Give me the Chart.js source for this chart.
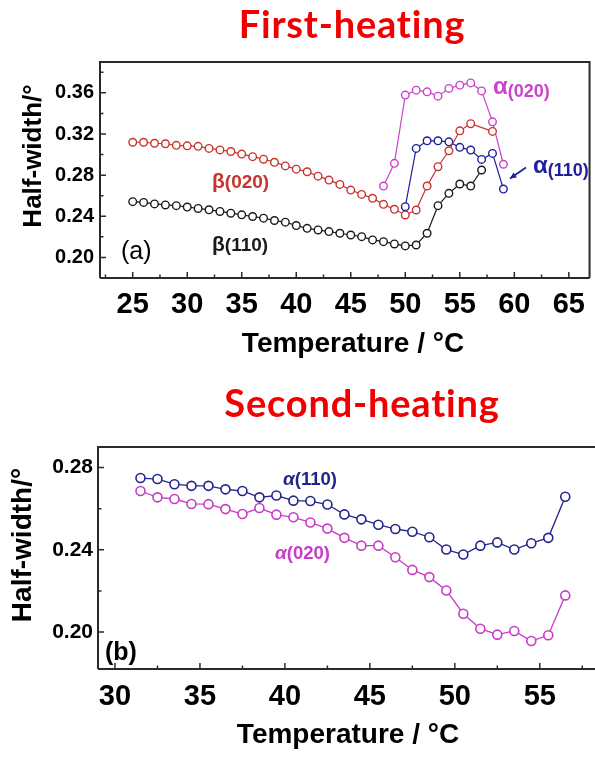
<!DOCTYPE html>
<html>
<head>
<meta charset="utf-8">
<script src="https://cdn.jsdelivr.net/npm/chart.js@4.4.0/dist/chart.umd.min.js"></script>
<style>
  body { margin: 0; background: #fff; width: 595px; height: 758px; position: relative; overflow: hidden; }
  canvas { position: absolute; left: 0; }
  #chartA { top: 0; }
  #chartB { top: 380px; }
</style>
</head>
<body>
<canvas id="chartA" width="595" height="370"></canvas>
<canvas id="chartB" width="595" height="378"></canvas>
<script>
// (a) first heating, temperature in °C
var tempA = [25, 26, 27, 28, 29, 30, 31, 32, 33, 34, 35, 36, 37, 38, 39, 40, 41, 42,
             43, 44, 45, 46, 47, 48, 49, 50, 51, 52, 53, 54, 55, 56, 57, 58, 59];
var beta020 = [0.312, 0.312, 0.311, 0.3105, 0.309, 0.3085, 0.308, 0.306, 0.3045, 0.303,
               0.3005, 0.298, 0.2955, 0.2925, 0.289, 0.2858, 0.2833, 0.279, 0.2752, 0.271,
               0.2655, 0.2613, 0.2575, 0.2516, 0.2468, 0.2413, 0.2461, 0.2694, 0.2882, 0.3037,
               0.3231, 0.33, null, 0.3225, null];
var beta110 = [0.2542, 0.2535, 0.252, 0.251, 0.2503, 0.249, 0.2476, 0.2463, 0.2447, 0.243,
               0.2414, 0.2398, 0.2382, 0.2359, 0.2343, 0.231, 0.2283, 0.2267, 0.2251, 0.2235,
               0.2218, 0.2202, 0.217, 0.2153, 0.2131, 0.2112, 0.2121, 0.2235, 0.2503, 0.2623,
               0.2714, 0.2694, 0.285, null, null];
var alpha110A = [null, null, null, null, null, null, null, null, null, null,
                 null, null, null, null, null, null, null, null, null, null,
                 null, null, null, null, null, 0.2493, 0.306, 0.3134, 0.3134, 0.3124,
                 0.307, 0.3044, 0.2953, 0.3011, 0.2665];
var alpha020A = [null, null, null, null, null, null, null, null, null, null,
                 null, null, null, null, null, null, null, null, null, null,
                 null, null, null, 0.2694, 0.2915, 0.3578, 0.3626, 0.361, 0.3568, 0.3643,
                 0.3675, 0.3697, 0.3619, 0.3318, 0.2906];

// (b) second heating
var tempB = [31.5, 32.5, 33.5, 34.5, 35.5, 36.5, 37.5, 38.5, 39.5, 40.5, 41.5, 42.5, 43.5,
             44.5, 45.5, 46.5, 47.5, 48.5, 49.5, 50.5, 51.5, 52.5, 53.5, 54.5, 55.5, 56.5];
var alpha110B = [0.2749, 0.2744, 0.2719, 0.2711, 0.2711, 0.2694, 0.2686, 0.2655, 0.2664, 0.2639,
                 0.2637, 0.262, 0.2572, 0.2548, 0.2522, 0.2501, 0.2488, 0.2461, 0.2401, 0.2377,
                 0.242, 0.2436, 0.2401, 0.2432, 0.2458, 0.2658];
var alpha020B = [0.2686, 0.2655, 0.2647, 0.2623, 0.2622, 0.2598, 0.2574, 0.2603, 0.2571, 0.2558,
                 0.2533, 0.2503, 0.2458, 0.242, 0.242, 0.2364, 0.2302, 0.2267, 0.2202, 0.2089,
                 0.2016, 0.1987, 0.2005, 0.1956, 0.1984, 0.2178];

// tick labels
var xTicksA = [25, 30, 35, 40, 45, 50, 55, 60, 65];
var xMinorA = [22.5, 27.5, 32.5, 37.5, 42.5, 47.5, 52.5, 57.5, 62.5];
var yTicksA = [0.20, 0.24, 0.28, 0.32, 0.36];
var yMinorA = [0.22, 0.26, 0.30, 0.34, 0.38];
var xTicksB = [30, 35, 40, 45, 50, 55];
var xMinorB = [32.5, 37.5, 42.5, 47.5, 52.5, 57.5];
var yTicksB = [0.20, 0.24, 0.28];
var yMinorB = [0.22, 0.26];

var SANS = '"Liberation Sans", Arial, sans-serif';

function points(xs, ys) {
    return xs.map(function (t, i) { return { x: t, y: ys[i] }; })
             .filter(function (p) { return p.y !== null; });
}

function series(label, xs, ys, color, r, bw, lw) {
    return {
        label: label,
        data: points(xs, ys),
        borderColor: color,
        backgroundColor: color,
        pointBackgroundColor: "#fff",
        pointBorderColor: color,
        pointRadius: r,
        pointBorderWidth: bw,
        borderWidth: lw,
        tension: 0
    };
}

// frame, inward ticks, labels and arrow
var decor = {
    id: "decor",
    afterDraw: function (chart, args, o) {
        var ctx = chart.ctx, a = chart.chartArea;
        var xs = chart.scales.x, ys = chart.scales.y;
        ctx.save();
        ctx.strokeStyle = "#2a2a2a";
        ctx.lineWidth = 2;
        ctx.beginPath();
        ctx.moveTo(a.left, a.bottom);
        ctx.lineTo(a.right, a.bottom);
        ctx.moveTo(a.left, a.bottom);
        ctx.lineTo(a.left, a.top);
        ctx.lineTo(a.right, a.top);
        if (o.rightEdge) ctx.lineTo(a.right, a.bottom);
        ctx.stroke();

        ctx.lineWidth = 1.5;
        ctx.beginPath();
        function tx(v, len) {
            var p = xs.getPixelForValue(v);
            ctx.moveTo(p, a.bottom); ctx.lineTo(p, a.bottom - len);
        }
        function ty(v, len) {
            var p = ys.getPixelForValue(v);
            ctx.moveTo(a.left, p); ctx.lineTo(a.left + len, p);
        }
        o.xMajor.forEach(function (v) { tx(v, 6); });
        o.xMinor.forEach(function (v) { tx(v, 3.5); });
        o.yMajor.forEach(function (v) { ty(v, 6); });
        o.yMinor.forEach(function (v) { ty(v, 3.5); });
        ctx.stroke();

        o.texts.forEach(function (t) {
            ctx.save();
            ctx.fillStyle = t.color || "#000";
            ctx.translate(t.x, t.y);
            if (t.rotate) ctx.rotate(-Math.PI / 2);
            ctx.textAlign = t.align || "left";
            ctx.textBaseline = t.baseline || "alphabetic";
            if (t.spacing) ctx.letterSpacing = t.spacing;
            var x = 0;
            t.parts.forEach(function (p) {
                ctx.font = p[1];
                ctx.fillText(p[0], x, p[2] || 0);
                x += ctx.measureText(p[0]).width;
            });
            ctx.restore();
        });

        if (o.arrow) {
            var ar = o.arrow;
            ctx.strokeStyle = ar.color;
            ctx.fillStyle = ar.color;
            ctx.lineWidth = 1.8;
            ctx.beginPath();
            ctx.moveTo(ar.x1, ar.y1);
            ctx.lineTo(ar.x2, ar.y2);
            ctx.stroke();
            var ang = Math.atan2(ar.y2 - ar.y1, ar.x2 - ar.x1);
            ctx.beginPath();
            ctx.moveTo(ar.x2, ar.y2);
            ctx.lineTo(ar.x2 - 7 * Math.cos(ang - 0.45), ar.y2 - 7 * Math.sin(ang - 0.45));
            ctx.lineTo(ar.x2 - 7 * Math.cos(ang + 0.45), ar.y2 - 7 * Math.sin(ang + 0.45));
            ctx.closePath();
            ctx.fill();
        }
        ctx.restore();
    }
};
Chart.register(decor);

function makeOptions(cfg) {
    return {
        responsive: false,
        animation: false,
        layout: { autoPadding: false, padding: cfg.padding },
        plugins: {
            legend: { display: false },
            tooltip: { enabled: false },
            decor: cfg.decor
        },
        scales: {
            x: {
                type: "linear",
                min: cfg.xMin,
                max: cfg.xMax,
                grid: { display: false, drawTicks: false },
                border: { display: false },
                afterFit: function (s) { s.height = cfg.xHeight; },
                afterBuildTicks: function (s) {
                    s.ticks = cfg.xTicks.map(function (v) { return { value: v }; });
                },
                ticks: {
                    color: "#000",
                    padding: cfg.xPad,
                    maxRotation: 0,
                    font: { family: SANS, weight: "bold", size: 29 },
                    callback: function (v) { return v; }
                }
            },
            y: {
                min: cfg.yMin,
                max: cfg.yMax,
                grid: { display: false, drawTicks: false },
                border: { display: false },
                afterFit: function (s) { s.width = cfg.yWidth; },
                afterBuildTicks: function (s) {
                    s.ticks = cfg.yTicks.map(function (v) { return { value: v }; });
                },
                ticks: {
                    color: "#000",
                    padding: cfg.yPad,
                    font: { family: SANS, weight: "bold", size: cfg.yFont },
                    callback: function (v) { return Number(v).toFixed(2); }
                }
            }
        }
    };
}

var RED = "#c8332f", BLACK = "#1a1a1a", BLUE = "#1f1fa0", MAG = "#cc42cc";
var BLUE_B = "#23238c", MAG_B = "#c83ac8";
var TITLE = "#f00000";

new Chart(document.getElementById("chartA"), {
    type: "line",
    data: {
        datasets: [
            series("β(110)", tempA, beta110, BLACK, 3.8, 1.4, 1.2),
            series("β(020)", tempA, beta020, RED, 3.8, 1.4, 1.2),
            series("α(110)", tempA, alpha110A, BLUE, 3.8, 1.4, 1.2),
            series("α(020)", tempA, alpha020A, MAG, 3.8, 1.4, 1.2)
        ]
    },
    options: makeOptions({
        padding: { left: 0, top: 62, right: 1, bottom: 0 },
        xMin: 22, xMax: 66.9, yMin: 0.18, yMax: 0.39,
        xHeight: 92, yWidth: 100, xPad: 10, yPad: 6, yFont: 20,
        xTicks: xTicksA, yTicks: yTicksA,
        decor: {
            rightEdge: true,
            xMajor: xTicksA, xMinor: xMinorA, yMajor: yTicksA, yMinor: yMinorA,
            texts: [
                { x: 352, y: 38, align: "center", color: TITLE, spacing: "0.8px", parts: [["First-heating", "bold 38px Lato"]] },
                { x: 34, y: 156, rotate: true, align: "center", baseline: "middle", parts: [["Half-width/°", "bold 26px " + SANS]] },
                { x: 353, y: 344, align: "center", baseline: "middle", parts: [["Temperature / °C", "bold 28px " + SANS]] },
                { x: 121, y: 259, parts: [["(a)", "25px " + SANS]] },
                { x: 212, y: 188, color: RED, parts: [["β", "bold 21px " + SANS], ["(020)", "bold 19px " + SANS]] },
                { x: 212, y: 251, color: BLACK, parts: [["β", "bold 21px " + SANS], ["(110)", "bold 19px " + SANS]] },
                { x: 493, y: 93.5, color: MAG, parts: [["α", "bold 24px " + SANS], ["(020)", "bold 18px " + SANS, 3.5]] },
                { x: 533, y: 173, color: BLUE, parts: [["α", "bold 24px " + SANS], ["(110)", "bold 18px " + SANS, 3]] }
            ],
            arrow: { x1: 526, y1: 167.5, x2: 510, y2: 178.5, color: BLUE }
        }
    })
});

new Chart(document.getElementById("chartB"), {
    type: "line",
    data: {
        datasets: [
            series("α(110)", tempB, alpha110B, BLUE_B, 4.5, 1.6, 1.3),
            series("α(020)", tempB, alpha020B, MAG_B, 4.5, 1.6, 1.3)
        ]
    },
    options: makeOptions({
        padding: { left: 0, top: 67, right: 0, bottom: 0 },
        xMin: 29, xMax: 58.25, yMin: 0.182, yMax: 0.29,
        xHeight: 89, yWidth: 98, xPad: 11, yPad: 5, yFont: 21,
        xTicks: xTicksB, yTicks: yTicksB,
        decor: {
            rightEdge: false,
            xMajor: xTicksB, xMinor: xMinorB, yMajor: yTicksB, yMinor: yMinorB,
            texts: [
                { x: 362, y: 36.7, align: "center", color: TITLE, spacing: "0.8px", parts: [["Second-heating", "bold 38px Lato"]] },
                { x: 23.5, y: 165, rotate: true, align: "center", baseline: "middle", parts: [["Half-width/°", "bold 28px " + SANS]] },
                { x: 348, y: 355.5, align: "center", baseline: "middle", parts: [["Temperature / °C", "bold 28px " + SANS]] },
                { x: 105, y: 280, parts: [["(b)", "bold 25px " + SANS]] },
                { x: 283, y: 104.5, color: BLUE_B, parts: [["α", "italic bold 19px " + SANS], ["(110)", "bold 18.5px " + SANS]] },
                { x: 275, y: 179, color: MAG_B, parts: [["α", "italic bold 19px " + SANS], ["(020)", "bold 18.5px " + SANS]] }
            ]
        }
    })
});
</script>
</body>
</html>
